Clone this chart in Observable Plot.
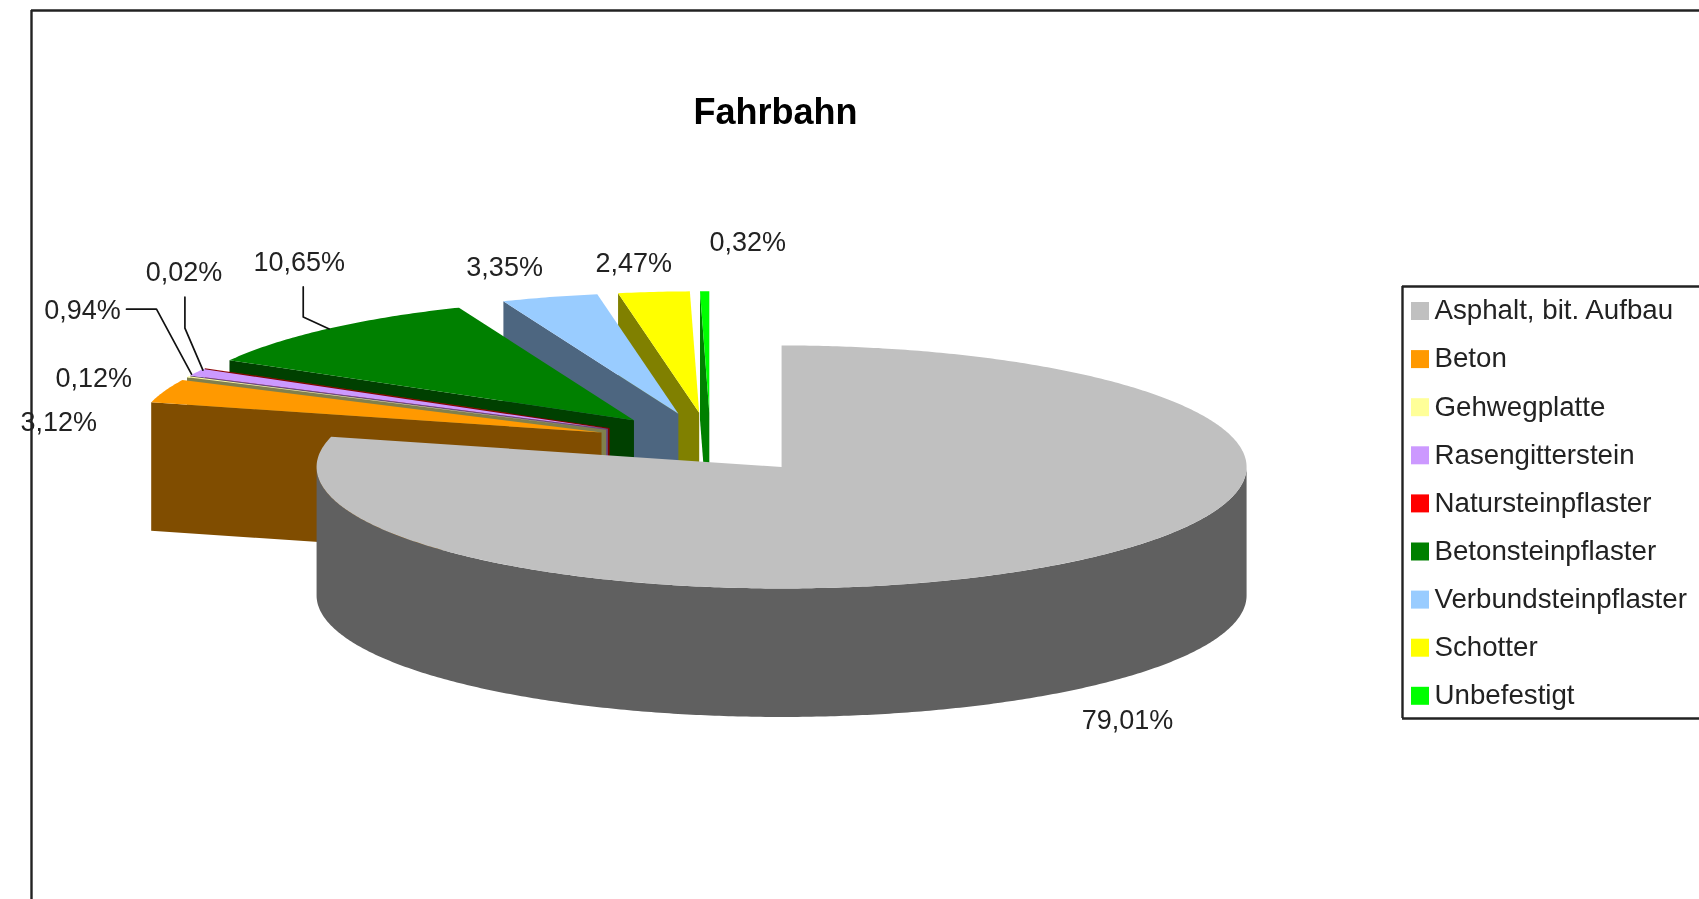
<!DOCTYPE html>
<html>
<head>
<meta charset="utf-8">
<script src="https://cdn.jsdelivr.net/npm/d3@7"></script>
<script src="https://cdn.jsdelivr.net/npm/@observablehq/plot@0.6"></script>
<style>
  html, body { margin: 0; padding: 0; background: #fff; overflow: hidden; }
  svg { display: block; filter: blur(0.55px); }
</style>
</head>
<body>
<div id="chart"></div>
<script>
// ---- Data ----
const categories = ["Asphalt, bit. Aufbau", "Beton", "Gehwegplatte", "Rasengitterstein", "Natursteinpflaster", "Betonsteinpflaster", "Verbundsteinpflaster", "Schotter", "Unbefestigt"];
const values = [79.01, 3.12, 0.12, 0.94, 0.02, 10.65, 3.35, 2.47, 0.32];
const colors = ["#C0C0C0", "#FF9900", "#FFFF99", "#CC99FF", "#FF0000", "#008000", "#99CCFF", "#FFFF00", "#00FF00"];
const title = "Fahrbahn";

// ---- Layout of the 3D exploded pie ----
const W = 1699, H = 899;
const centre = [710, 442.5], rx = 465, ry = 121.5, depth = 128.5, explode = 0.2495;
// label position relative to the slice's outer midpoint
const labelOffset = [[61, 157], [-106, 31], [-94, 2], [-114, -62], [-21, -96], [-28, -67], [-45, -30], [-20, -29], [43, -49]];
// leader line relative to the slice's outer midpoint (empty = none)
const leaderOffset = [[], [], [], [[-70, -63], [-40, -63], [-5, 2]], [[-20, -71], [-20, -40], [-2, 2]], [[-24, -42], [-24, -12], [2, 0]], [], [], []];
const legend = {left: 1402, top: 286, bottom: 718, swatchX: 1411, swatchSize: 18, textX: 1434, firstRow: 311, rowStep: 48.1};

const halfShade = c => { const k = d3.rgb(c); return d3.rgb(k.r / 2, k.g / 2, k.b / 2).formatHex(); };
const total = d3.sum(values);
const cumulative = d3.cumsum(values);
const slices = categories.map((name, i) => {
  const a0 = (cumulative[i] - values[i]) / total * 2 * Math.PI;
  const a1 = cumulative[i] / total * 2 * Math.PI;
  const mid = (a0 + a1) / 2;
  const apex = [centre[0] + explode * rx * Math.sin(mid), centre[1] - explode * ry * Math.cos(mid)];
  const outer = a => [apex[0] + rx * Math.sin(a), apex[1] - ry * Math.cos(a)];
  const anchor = outer(mid);
  return {name, i, a0, a1, mid, apex, outer, anchor, color: colors[i], side: halfShade(colors[i]),
          pct: values[i].toFixed(2).replace(".", ",") + "%"};
});
const arcPoints = (s, from, to) => {
  const n = Math.max(2, Math.ceil((to - from) / 0.01));
  return d3.range(n + 1).map(k => s.outer(from + (to - from) * k / n));
};

// polygons painted back to front
const polygons = [];
const add = (id, color, pts) => pts.forEach(p => polygons.push({id, color, x: p[0], y: p[1]}));
[...slices].reverse().forEach(s => {
  if (s.i > 0) {
    const p = s.outer(s.a0);
    add(s.name + " face", s.side, [s.apex, p, [p[0], p[1] + depth], [s.apex[0], s.apex[1] + depth]]);
    add(s.name + " top", s.color, [s.apex, ...arcPoints(s, s.a0, s.a1)]);
  } else {
    const front = arcPoints(s, Math.PI / 2, 3 * Math.PI / 2);
    add(s.name + " wall", s.side, [...front, ...front.map(p => [p[0], p[1] + depth]).reverse()]);
    add(s.name + " top", s.color, [s.apex, ...arcPoints(s, s.a0, s.a1)]);
  }
});

const labels = slices.map(s => ({text: s.pct, x: s.anchor[0] + labelOffset[s.i][0], y: s.anchor[1] + labelOffset[s.i][1]}));
const leaders = slices.flatMap(s => leaderOffset[s.i].map(o => ({id: s.name, x: s.anchor[0] + o[0], y: s.anchor[1] + o[1]})));
const rows = slices.map(s => ({name: s.name, color: s.color, y: legend.firstRow + s.i * legend.rowStep}));

const font = "'Liberation Sans', Arial, sans-serif";
const ink = "#222";
const chart = Plot.plot({
  width: W, height: H, margin: 0,
  style: {background: "#fff", overflow: "hidden"},
  x: {domain: [0, W], range: [0, W], axis: null},
  y: {domain: [0, H], range: [0, H], axis: null},
  color: {type: "identity"},
  marks: [
    // chart frame
    Plot.ruleX([31], {y1: 10, y2: H, stroke: ink, strokeWidth: 2.4}),
    Plot.ruleY([10], {x1: 31, x2: W, stroke: ink, strokeWidth: 2.4}),
    // title
    Plot.text([title], {x: () => 775, y: () => 112, text: d => d, fontFamily: font, fontWeight: "bold", fontSize: 36, fill: "#000"}),
    // pie
    Plot.line(polygons, {x: "x", y: "y", z: "id", fill: "color", stroke: null, curve: "linear-closed"}),
    // leaders and labels
    Plot.line(leaders, {x: "x", y: "y", z: "id", stroke: "#111", strokeWidth: 1.7, fill: "none"}),
    Plot.text(labels, {x: "x", y: "y", text: "text", fontFamily: font, fontSize: 27, fill: "#222"}),
    // legend
    Plot.ruleX([legend.left], {y1: legend.top, y2: legend.bottom, stroke: ink, strokeWidth: 2.4}),
    Plot.ruleY([legend.top, legend.bottom], {x1: legend.left, x2: W, stroke: ink, strokeWidth: 2.4}),
    Plot.rect(rows, {x1: () => legend.swatchX, x2: () => legend.swatchX + legend.swatchSize,
                     y1: d => d.y - legend.swatchSize / 2, y2: d => d.y + legend.swatchSize / 2, fill: "color"}),
    Plot.text(rows, {x: () => legend.textX, y: d => d.y - 1, text: "name", textAnchor: "start", fontFamily: font, fontSize: 27.7, fill: "#222"})
  ]
});
document.getElementById("chart").append(chart);
</script>
</body>
</html>
